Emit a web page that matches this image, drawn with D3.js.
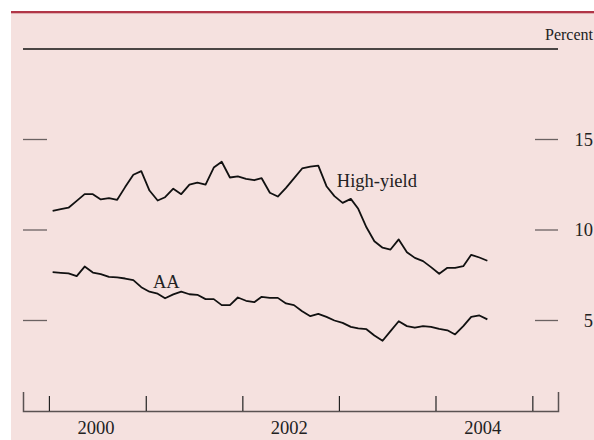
<!DOCTYPE html>
<html lang="en">
<head>
  <meta charset="UTF-8">
  <title>Corporate bond yields</title>
  <script src="https://cdn.jsdelivr.net/npm/d3@7/dist/d3.min.js"></script>
  <style>
    * {
      margin: 0;
      padding: 0;
    }
    body {
      background: #fff;
    }
    svg text {
      font-family: "Liberation Serif", "Times New Roman", serif;
      fill: #222;
    }
  </style>
</head>
<body>
  <div id="chart"></div>
  <script>
  // monthly yields, percent (Jan 2000 .. Jul 2004)
  var highYield = [11.06, 11.15, 11.23, 11.61, 11.98, 11.98, 11.69, 11.76, 11.67, 12.37,
    13.05, 13.25, 12.18, 11.63, 11.81, 12.28, 11.98, 12.51, 12.62, 12.51,
    13.45, 13.77, 12.90, 12.96, 12.83, 12.75, 12.86, 12.06, 11.85, 12.33,
    12.85, 13.40, 13.50, 13.56, 12.42, 11.87, 11.50, 11.72, 11.17, 10.15,
    9.38, 9.02, 8.92, 9.48, 8.77, 8.46, 8.28, 7.95, 7.58, 7.91,
    7.91, 8.00, 8.63, 8.48, 8.30];
  var aa = [7.67, 7.63, 7.60, 7.45, 7.98, 7.65, 7.56, 7.41, 7.38, 7.32,
    7.23, 6.84, 6.59, 6.48, 6.23, 6.44, 6.60, 6.45, 6.42, 6.18,
    6.18, 5.85, 5.85, 6.27, 6.09, 6.01, 6.31, 6.25, 6.25, 5.94,
    5.85, 5.51, 5.24, 5.37, 5.20, 5.00, 4.87, 4.65, 4.56, 4.52,
    4.17, 3.88, 4.41, 4.96, 4.69, 4.60, 4.69, 4.65, 4.54, 4.46,
    4.23, 4.69, 5.20, 5.28, 5.06];
  var yearTicks = [2000, 2001, 2002, 2003, 2004, 2005];
  var yearLabels = ["2000", "2002", "2004"];
  var yTicks = [5, 10, 15];

  var width = 594, height = 440;
  var months = d3.timeMonth.range(new Date(2000, 0, 1), new Date(2004, 7, 1));

  var svg = d3.select("#chart").append("svg")
      .attr("width", width)
      .attr("height", height);

  // pink panel and red rule on top
  svg.append("rect")
    .attr("x", 11).attr("y", 13)
    .attr("width", width - 11).attr("height", height - 13)
    .attr("fill", "#f5e1df");
  svg.append("rect")
    .attr("x", 11).attr("y", 11)
    .attr("width", width - 11).attr("height", 2.3)
    .attr("fill", "#b13647");

  var x = d3.scaleTime()
      .domain([new Date(1999, 8, 25), new Date(2005, 3, 8)])
      .range([23, 558]);
  var y = d3.scaleLinear()
      .domain([0, 20])
      .range([411, 49]);

  // top rule at 20 percent
  svg.append("line")
    .attr("x1", x.range()[0]).attr("x2", x.range()[1])
    .attr("y1", y(20)).attr("y2", y(20))
    .attr("stroke", "#111")
    .attr("stroke-width", 1.3);

  svg.append("text")
    .attr("x", 593).attr("y", 39.5)
    .attr("text-anchor", "end")
    .style("font-size", "16px")
    .text("Percent");

  // y ticks on both sides
  var ticks = svg.append("g").selectAll("g")
    .data(yTicks)
    .enter().append("g");
  ticks.append("line")
    .attr("x1", 23).attr("x2", 47)
    .attr("y1", function (d) { return y(d); })
    .attr("y2", function (d) { return y(d); })
    .attr("stroke", "#6a6262").attr("stroke-width", 1.3);
  ticks.append("line")
    .attr("x1", 535).attr("x2", 558)
    .attr("y1", function (d) { return y(d); })
    .attr("y2", function (d) { return y(d); })
    .attr("stroke", "#6a6262").attr("stroke-width", 1.3);
  ticks.append("text")
    .attr("x", 593)
    .attr("y", function (d) { return y(d) + 6.3; })
    .attr("text-anchor", "end")
    .style("font-size", "18.5px")
    .text(function (d) { return d; });

  // x axis
  var xAxis = d3.axisBottom(x)
    .tickValues(yearTicks.map(function (yr) { return new Date(yr, 0, 1); }))
    .tickSize(-15)
    .tickSizeOuter(-19)
    .tickFormat("");
  var gx = svg.append("g")
    .attr("transform", "translate(0," + y(0) + ")")
    .call(xAxis);
  gx.select(".domain").attr("stroke", "#5a5252").attr("stroke-width", 1.5);
  gx.selectAll(".tick line").attr("stroke", "#222").attr("stroke-width", 1.2);

  svg.append("g").selectAll("text")
    .data(yearLabels)
    .enter().append("text")
      .attr("x", function (d) { return x(new Date(+d, 6, 1)) - 1; })
      .attr("y", 433.5)
      .attr("text-anchor", "middle")
      .style("font-size", "18.5px")
      .text(function (d) { return d; });

  // lines
  var line = d3.line()
    .x(function (d, i) { return x(d3.timeDay.offset(months[i], 14)); })
    .y(function (d) { return y(d); });

  [highYield, aa].forEach(function (s) {
    svg.append("path")
      .datum(s)
      .attr("fill", "none")
      .attr("stroke", "#111")
      .attr("stroke-width", 1.8)
      .attr("stroke-linejoin", "round")
      .attr("d", line);
  });

  // series labels
  svg.append("text")
    .attr("x", x(new Date(2002, 11, 24)))
    .attr("y", y(12.37))
    .style("font-size", "18.5px")
    .text("High-yield");
  svg.append("text")
    .attr("x", x(new Date(2001, 0, 28)))
    .attr("y", y(6.8))
    .style("font-size", "18.5px")
    .text("AA");
  </script>
</body>
</html>
